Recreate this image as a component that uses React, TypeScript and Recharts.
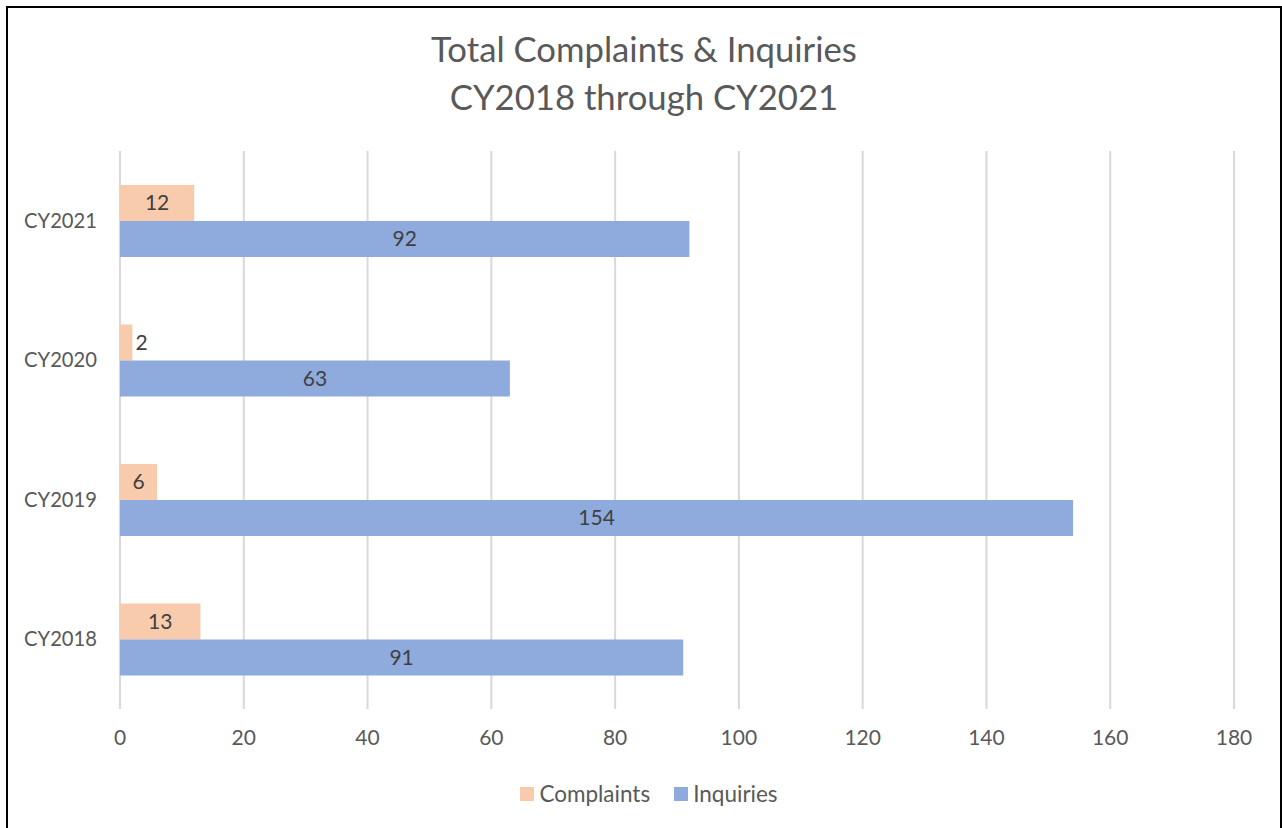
import React from "react";
import { BarChart, Bar, XAxis, YAxis, CartesianGrid, LabelList } from "recharts";

const categories = ["CY2021", "CY2020", "CY2019", "CY2018"];
const complaints = [12, 2, 6, 13];
const inquiries = [92, 63, 154, 91];
const xTicks = [0, 20, 40, 60, 80, 100, 120, 140, 160, 180];

const data = categories.map((c, i) => ({ year: c, Complaints: complaints[i], Inquiries: inquiries[i] }));

const FONT = "Lato, 'Open Sans', sans-serif";
const TEXT = "#595959";
const LABEL = "#404040";
const C_COMP = "#F8CBAD";
const C_INQ = "#8FAADC";

const BarLabel = (props: any) => {
  const { x, y, width, height, value } = props;
  const s = String(value);
  const tw = s.length * 11.5;
  const cy = y + height / 2;
  if (width < tw + 6) {
    return (
      <text x={x + width + 3} y={cy} dy="0.35em" textAnchor="start" fill={LABEL} fontSize={21} fontFamily={FONT}>
        {s}
      </text>
    );
  }
  return (
    <text x={x + width / 2} y={cy} dy="0.35em" textAnchor="middle" fill={LABEL} fontSize={21} fontFamily={FONT}>
      {s}
    </text>
  );
};

export default function App() {
  return (
    <div style={{ position: "absolute", left: 0, top: 0, width: 1282, height: 828, overflow: "hidden", background: "#fff", fontFamily: FONT }}>
      <div style={{ position: "absolute", left: 6, top: 6, width: 1272, height: 900, border: "2px solid #000" }} />
      <div style={{ position: "absolute", left: 3, top: 25, width: 1282, textAlign: "center", color: TEXT, fontSize: 34.7, lineHeight: "48px" }}>
        <div>Total Complaints &amp; Inquiries</div>
        <div>CY2018 through CY2021</div>
      </div>
      <div style={{ position: "absolute", left: 0, top: 0 }}>
        <BarChart
          width={1282}
          height={828}
          data={data}
          layout="vertical"
          barGap={0}
          margin={{ top: 151, right: 48, bottom: 79, left: 0 }}
        >
          <CartesianGrid horizontal={false} vertical={true} stroke="#d9d9d9" strokeWidth={2} />
          <XAxis
            type="number"
            domain={[0, 180]}
            ticks={xTicks}
            axisLine={false}
            tickLine={false}
            tickSize={0}
            tickMargin={21}
            height={40}
            tick={{ fill: TEXT, fontSize: 21, fontFamily: FONT }}
            interval={0}
          />
          <YAxis
            type="category"
            dataKey="year"
            axisLine={false}
            tickLine={false}
            tickSize={0}
            tickMargin={23}
            width={120}
            tick={{ fill: TEXT, fontSize: 20.2, fontFamily: FONT }}
          />
          <Bar dataKey="Complaints" fill={C_COMP} barSize={36} isAnimationActive={false}>
            <LabelList dataKey="Complaints" content={<BarLabel />} />
          </Bar>
          <Bar dataKey="Inquiries" fill={C_INQ} barSize={36} isAnimationActive={false}>
            <LabelList dataKey="Inquiries" content={<BarLabel />} />
          </Bar>
        </BarChart>
      </div>
      <div style={{ position: "absolute", left: 8, top: 780, width: 1282, display: "flex", justifyContent: "center", alignItems: "center", color: TEXT, fontSize: 22.5 }}>
        <span style={{ display: "inline-block", width: 14, height: 14, background: C_COMP, marginRight: 5 }} />
        <span style={{ marginRight: 24 }}>Complaints</span>
        <span style={{ display: "inline-block", width: 14, height: 14, background: C_INQ, marginRight: 5 }} />
        <span>Inquiries</span>
      </div>
    </div>
  );
}
